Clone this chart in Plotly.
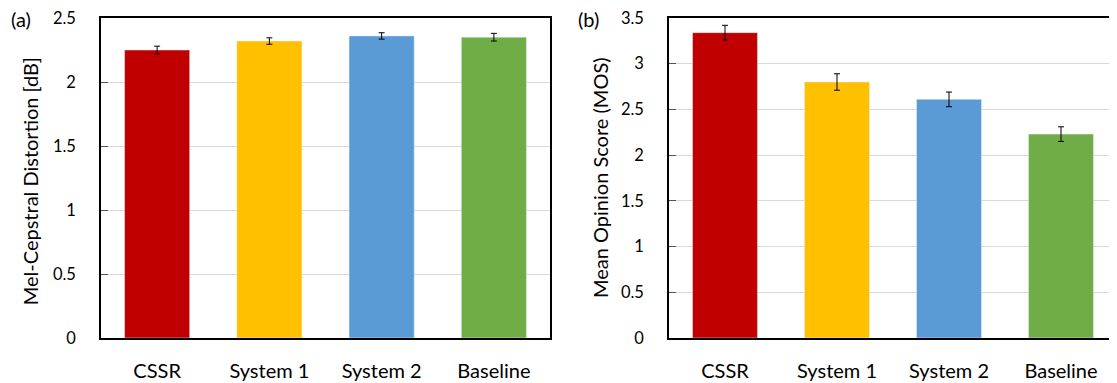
import plotly.graph_objects as go

categories = ["CSSR", "System 1", "System 2", "Baseline"]
mcd_values = [2.25, 2.32, 2.36, 2.35]
mcd_errors = [0.03, 0.025, 0.025, 0.03]
mos_values = [3.34, 2.80, 2.61, 2.23]
mos_errors = [0.08, 0.09, 0.08, 0.08]
bar_colors = ["#C00000", "#FFC000", "#5B9BD5", "#70AD47"]
mcd_ticks = [0, 0.5, 1, 1.5, 2, 2.5]
mcd_ticktext = ["0", "0.5", "1", "1.5", "2", "2.5"]
mos_ticks = [0, 0.5, 1, 1.5, 2, 2.5, 3, 3.5]
mos_ticktext = ["0", "0.5", "1", "1.5", "2", "2.5", "3", "3.5"]

FONT = "Lato, 'Open Sans', sans-serif"
# page body has an 8px margin, so the figure is drawn 8px smaller than the window
W, H = 1109, 375
T, B = 10, 45

fig = go.Figure()
fig.add_trace(go.Bar(
    x=categories, y=mcd_values, marker_color=bar_colors, width=0.58,
    error_y=dict(type="data", array=mcd_errors, color="black", thickness=1, width=3),
    xaxis="x", yaxis="y", showlegend=False))
fig.add_trace(go.Bar(
    x=categories, y=mos_values, marker_color=bar_colors, width=0.58,
    error_y=dict(type="data", array=mos_errors, color="black", thickness=1, width=3),
    xaxis="x2", yaxis="y2", showlegend=False))

axis_common = dict(showline=True, linecolor="black", linewidth=1.5, mirror=True,
                   ticklabeloverflow="allow", automargin=False)
xcommon = dict(ticks="", ticklabelstandoff=14, tickfont=dict(size=20), **axis_common)
ycommon = dict(domain=[0, 1], showgrid=True, gridcolor="#D9D9D9", gridwidth=1.2, ticks="inside",
               ticklen=7, tickcolor="#555", ticklabelstandoff=20, tickfont=dict(size=16.5),
               zeroline=False, **axis_common)

fig.update_layout(
    width=W, height=H,
    margin=dict(l=0, r=0, t=T, b=B),
    paper_bgcolor="white", plot_bgcolor="white",
    font=dict(family=FONT, size=18, color="black"),
    xaxis=dict(domain=[93 / W, 542 / W], anchor="y", **xcommon),
    yaxis=dict(anchor="x", range=[0, 2.5], tickvals=mcd_ticks, ticktext=mcd_ticktext, **ycommon),
    xaxis2=dict(domain=[661 / W, 1.0], anchor="y2", **xcommon),
    yaxis2=dict(anchor="x2", range=[0, 3.5], tickvals=mos_ticks, ticktext=mos_ticktext, **ycommon),
)

fig.add_annotation(text="Mel-Cepstral Distortion [dB]", textangle=-90, xref="paper", yref="paper",
                   x=22 / W, y=0.49, xanchor="center", yanchor="middle", showarrow=False,
                   font=dict(size=20))
fig.add_annotation(text="Mean Opinion Score (MOS)", textangle=-90, xref="paper", yref="paper",
                   x=592 / W, y=0.5, xanchor="center", yanchor="middle", showarrow=False,
                   font=dict(size=20))
label_y = (H - B - 11) / (H - T - B)
fig.add_annotation(text="(a)", xref="paper", yref="paper", x=1 / W, y=label_y,
                   xanchor="left", yanchor="middle", showarrow=False, font=dict(size=20))
fig.add_annotation(text="(b)", xref="paper", yref="paper", x=568 / W, y=label_y,
                   xanchor="left", yanchor="middle", showarrow=False, font=dict(size=20))

fig.write_html("out.html")
